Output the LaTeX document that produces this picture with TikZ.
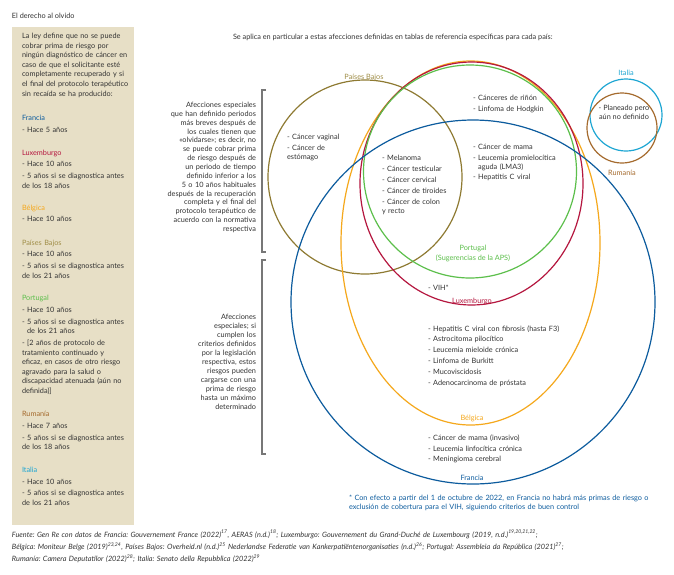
\documentclass[tikz,border=0pt]{standalone}
\usepackage{fontspec}
\setmainfont{Lato}
\frenchspacing
\definecolor{txtcol}{HTML}{333333}
\definecolor{beige}{HTML}{E7DFC6}
\definecolor{frc}{HTML}{0D5C9E}
\definecolor{luc}{HTML}{B5173F}
\definecolor{bec}{HTML}{F5A81C}
\definecolor{pbc}{HTML}{8E7A32}
\definecolor{pbl}{HTML}{A08E48}
\definecolor{ptc}{HTML}{5CBF4B}
\definecolor{roc}{HTML}{A56B2E}
\definecolor{itc}{HTML}{1EA6D3}
\definecolor{brc}{HTML}{777777}
\newlength\myitsep
\newcommand\itm[1]{\par\vskip\myitsep\setbox0\hbox{-\ }\hangindent=\wd0 \hangafter=1 \noindent-\ #1}
\newcommand\itmf[1]{\setbox0\hbox{-\ }\hangindent=\wd0 \hangafter=1 \noindent-\ #1}
\begin{document}
\begin{tikzpicture}[x=1pt,y=-1pt,
  every node/.style={inner sep=0pt,outer sep=0pt},
  base/.style={font=\fontsize{7.3}{9}\selectfont,text=txtcol},
  lstL/.style={base,font=\fontsize{7.3}{9.6}\selectfont\setlength\myitsep{2.1pt},text width=250pt,anchor=base west},
  lstC/.style={base,font=\fontsize{7.3}{9}\selectfont\setlength\myitsep{1.8pt},text width=250pt,anchor=base west},
  rtxt/.style={base,text width=200pt,align=right,anchor=base east},
  lab/.style={font=\fontsize{7.3}{9}\selectfont,anchor=base},
  ring/.style={line width=1.2pt},
  brk/.style={draw=brc,line width=1.1pt}]
\useasboundingbox (0,0) rectangle (674,574);
\fill[white] (0,0) rectangle (674,574);

% title and left panel
\node[base,anchor=base west] (title) at (12,18) {El derecho al olvido};
\fill[beige] (12,27) rectangle (134,525);
\node[lstL] (intro) at (22,38.5) {\noindent La ley define que no se puede\newline cobrar prima de riesgo por\newline ningún diagnóstico de cáncer en\newline caso de que el solicitante esté\newline completamente recuperado y si\newline el final del protocolo terapéutico\newline sin recaída se ha producido:};
\node[lstL] (lfr) at (22,120.5) {\noindent{\color{frc}Francia}\itm{Hace 5 años}};
\node[lstL] (llu) at (22,155.2) {\noindent{\color{luc}Luxemburgo}\itm{Hace 10 años}\itm{5 años si se diagnostica antes\newline de los 18 años}};
\node[lstL] (lbe) at (22,210.2) {\noindent{\color{bec}Bélgica}\itm{Hace 10 años}};
\node[lstL] (lpb) at (22,245.2) {\noindent{\color{pbl}Países Bajos}\itm{Hace 10 años}\itm{5 años si se diagnostica antes\newline de los 21 años}};
\node[lstL] (lpt) at (22,300.8) {\noindent{\color{ptc}Portugal}\itm{Hace 10 años}\itm{5 años si se diagnostica antes\newline de los 21 años}\itm{[2 años de protocolo de\newline tratamiento continuado y\newline eficaz, en casos de otro riesgo\newline agravado para la salud o\newline discapacidad atenuada (aún no\newline definida)]}};
\node[lstL] (lro) at (22,416.8) {\noindent{\color{roc}Rumanía}\itm{Hace 7 años}\itm{5 años si se diagnostica antes\newline de los 18 años}};
\node[lstL] (lit) at (22,472.5) {\noindent{\color{itc}Italia}\itm{Hace 10 años}\itm{5 años si se diagnostica antes\newline de los 21 años}};

% header
\node[base,anchor=base west] (head) at (233,39.5) {Se aplica en particular a estas afecciones definidas en tablas de referencia específicas para cada país:};

% brackets and their texts
\draw[brk] (266,90) -- (262,90) -- (262,252) -- (266,252);
\draw[brk] (266,260) -- (262,260) -- (262,454) -- (266,454);
\node[rtxt,font=\fontsize{7.3}{8.86}\selectfont] (br1) at (256,107.5) {Afecciones especiales\\ que han definido periodos\\ más breves después de\\ los cuales tienen que\\ «olvidarse»; es decir, no\\ se puede cobrar prima\\ de riesgo después de\\ un periodo de tiempo\\ definido inferior a los\\ 5 o 10 años habituales\\ después de la recuperación\\ completa y el final del\\ protocolo terapéutico de\\ acuerdo con la normativa\\ respectiva};
\node[rtxt] (br2) at (256,319.2) {Afecciones\\ especiales; si\\ cumplen los\\ criterios definidos\\ por la legislación\\ respectiva, estos\\ riesgos pueden\\ cargarse con una\\ prima de riesgo\\ hasta un máximo\\ determinado};

% rings
\draw[ring,pbc] (365,177) circle[radius=97];
\draw[ring,bec] (470.5,243) ellipse[x radius=129.5,y radius=182];
\draw[ring,luc] (471.5,183.5) ellipse[x radius=111.5,y radius=121.5];
\draw[ring,ptc] (470,171.5) circle[radius=106.5];
\draw[ring,frc] (473,302) circle[radius=182];
\draw[ring,itc] (626,115) circle[radius=36];
\draw[ring,roc] (622,128) circle[radius=35];

% ring labels
\node[lab,text=pbl] (lbpb) at (364,79) {Países Bajos};
\node[lab,text=itc] (lbit) at (626,75.5) {Italia};
\node[lab,text=roc] (lbro) at (622,175.5) {Rumanía};
\node[lab,text=ptc,align=center] (lbpt) at (473,260.5) {Portugal\\[1pt](Sugerencias de la APS)};
\node[lab,text=luc] (lblu) at (472,303) {Luxemburgo};
\node[lab,text=bec] (lbbe) at (472,420) {Bélgica};
\node[lab,text=frc] (lbfr) at (472,480.5) {Francia};

% ring contents
\node[base,align=center,anchor=base] (plan) at (624,119) {- Planeado pero\\ aún no definido};
\node[lstC] (pbonly) at (287,139.2) {\itmf{Cáncer vaginal}\itm{Cáncer de\newline estómago}};
\node[lstC] (core) at (382,160.8) {\itmf{Melanoma}\itm{Cáncer testicular}\itm{Cáncer cervical}\itm{Cáncer de tiroides}\itm{Cáncer de colon\newline y recto}};
\node[lstC] (kid) at (473,100.8) {\itmf{Cánceres de riñón}\itm{Linfoma de Hodgkin}};
\node[lstC] (mama) at (473,149.2) {\itmf{Cáncer de mama}\itm{Leucemia promielocítica\newline aguda (LMA3)}\itm{Hepatitis C viral}};
\node[lstC] (vih) at (428,290) {\itmf{VIH*}};
\node[lstC] (bel) at (428,331) {\itmf{Hepatitis C viral con fibrosis (hasta F3)}\itm{Astrocitoma pilocítico}\itm{Leucemia mieloide crónica}\itm{Linfoma de Burkitt}\itm{Mucoviscidosis}\itm{Adenocarcinoma de próstata}};
\node[lstC] (fra) at (428,440.2) {\itmf{Cáncer de mama (invasivo)}\itm{Leucemia linfocítica crónica}\itm{Meningioma cerebral}};

% footnote
\node[base,text=frc,text width=320pt,anchor=base west,font=\fontsize{7.3}{9.4}\selectfont] (fn) at (349,500) {\setbox0\hbox{*\ }\hangindent=\wd0 \hangafter=1 \noindent*\ Con efecto a partir del 1 de octubre de 2022, en Francia no habrá más primas de riesgo o\newline exclusión de cobertura para el VIH, siguiendo criterios de buen control};

% source
\node[base,text width=660pt,anchor=base west,font=\fontsize{7.3}{12.1}\selectfont\itshape] (src) at (12,537) {\noindent Fuente: Gen Re con datos de Francia: Gouvernement France (2022)\textsuperscript{17}, AERAS (n.d.)\textsuperscript{18}; Luxemburgo: Gouvernement du Grand-Duché de Luxembourg (2019, n.d.)\textsuperscript{19,20,21,22};\newline Bélgica: Moniteur Belge (2019)\textsuperscript{23,24}, Países Bajos: Overheid.nl (n.d.)\textsuperscript{25} Nederlandse Federatie van Kankerpatiëntenorganisaties (n.d.)\textsuperscript{26}; Portugal: Assembleia da República (2021)\textsuperscript{27};\newline Rumanía: Camera Deputatilor (2022)\textsuperscript{28}; Italia: Senato della Repubblica (2022)\textsuperscript{29}};
\end{tikzpicture}
\end{document}
